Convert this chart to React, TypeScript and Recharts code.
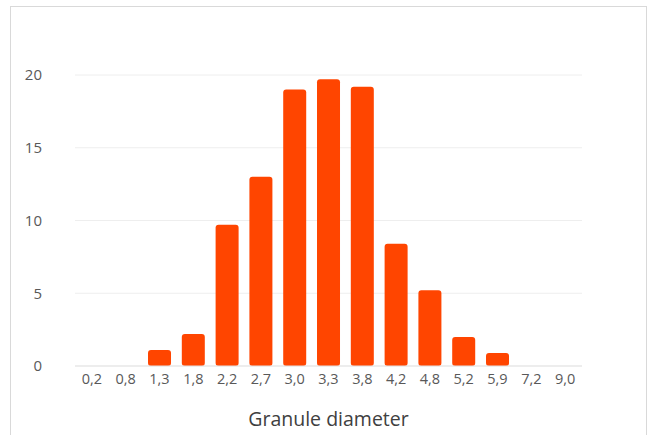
import React from "react";
import { BarChart, Bar, XAxis, YAxis, CartesianGrid } from "recharts";

const categories = ["0,2", "0,8", "1,3", "1,8", "2,2", "2,7", "3,0", "3,3", "3,8", "4,2", "4,8", "5,2", "5,9", "7,2", "9,0"];
const counts = [0, 0, 1.1, 2.2, 9.7, 13.0, 19.0, 19.7, 19.2, 8.4, 5.2, 2.0, 0.9, 0, 0];
const yTicks = [0, 5, 10, 15, 20];

const data = categories.map((c, i) => ({ name: c, value: counts[i] }));

const FONT = "'Open Sans', 'Noto Sans', sans-serif";

export default function App() {
  return (
    <div style={{ position: "absolute", left: 0, top: 0, width: 653, height: 435, overflow: "hidden", background: "#fff" }}>
      <div style={{ position: "absolute", left: 10, top: 6, width: 635, height: 460, border: "1px solid #d9d9d9" }} />
      <div style={{ position: "absolute", left: 0, top: 0 }}>
        <BarChart width={653} height={435} data={data} margin={{ top: 75, right: 71, bottom: 0, left: 15 }} barCategoryGap="16%">
          <CartesianGrid vertical={false} stroke="#eeeeee" />
          <XAxis
            dataKey="name"
            tickLine={false}
            axisLine={{ stroke: "#e3e3e3" }}
            interval={0}
            height={69}
            tickMargin={2}
            tick={{ fill: "#595959", fontSize: 14.5, fontFamily: FONT }}
            label={{ value: "Granule diameter", position: "insideBottom", offset: 9, fill: "#404040", fontSize: 19.5, fontFamily: FONT }}
          />
          <YAxis
            domain={[0, 20]}
            ticks={yTicks}
            tickLine={false}
            axisLine={false}
            width={60}
            tickMargin={27}
            tick={{ fill: "#595959", fontSize: 15, fontFamily: FONT }}
          />
          <Bar dataKey="value" fill="#FF4500" radius={[3, 3, 3, 3]} isAnimationActive={false} />
        </BarChart>
      </div>
    </div>
  );
}
